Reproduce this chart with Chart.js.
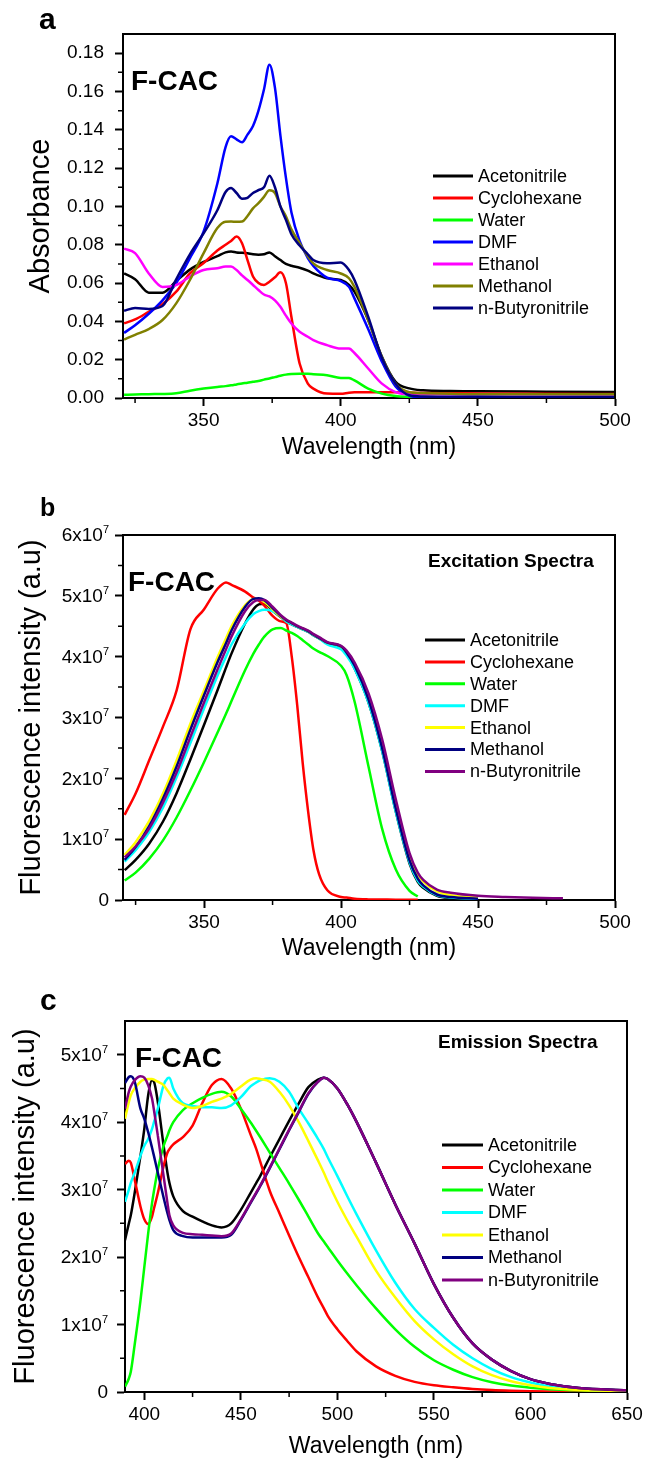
<!DOCTYPE html>
<html>
<head>
<meta charset="utf-8">
<script src="https://cdn.jsdelivr.net/npm/chart.js@4.4.0/dist/chart.umd.min.js"></script>
<style>
  html, body { margin: 0; padding: 0; background: #fff; }
  body { width: 646px; height: 1460px; position: relative; overflow: hidden; }
  .panel { position: absolute; left: 0; width: 646px; }
  canvas { display: block; }
</style>
</head>
<body>
<div class="panel" style="top:0;height:470px"><canvas id="chartA"></canvas></div>
<div class="panel" style="top:470px;height:495px"><canvas id="chartB"></canvas></div>
<div class="panel" style="top:965px;height:495px"><canvas id="chartC"></canvas></div>
<script>
var FONT = '"Liberation Sans", Arial, Helvetica, sans-serif';
Chart.defaults.font.family = FONT;
Chart.defaults.color = '#000';

var solvents = ["Acetonitrile", "Cyclohexane", "Water", "DMF", "Ethanol", "Methanol", "n-Butyronitrile"];
var colorsA = ["#000000", "#ff0000", "#00ff00", "#0000ff", "#ff00ff", "#808000", "#000080"];
var colorsBC = ["#000000", "#ff0000", "#00ff00", "#00ffff", "#ffff00", "#000080", "#800080"];

// ---- panel a : absorbance ----
var aWavelength = [321, 325, 330, 335, 340, 345, 350, 355, 358, 360, 362, 364, 366, 368, 370, 372, 374, 376, 378, 380,
  382, 385, 388, 390, 395, 400, 403, 405, 410, 415, 420, 425, 430, 440, 450, 475, 500];
var aAcetonitrile = [0.065, 0.062, 0.055, 0.055, 0.061, 0.067, 0.071, 0.074, 0.076, 0.0765, 0.076, 0.0758, 0.0755, 0.075, 0.0748,
  0.075, 0.076, 0.074, 0.072, 0.070, 0.069, 0.068, 0.0665, 0.065, 0.0625, 0.0616, 0.059, 0.0555, 0.0407, 0.0215,
  0.0084, 0.005, 0.004, 0.0036, 0.0035, 0.0033, 0.0031];
var aCyclohexane = [0.039, 0.041, 0.045, 0.049, 0.0555, 0.065, 0.0705, 0.077, 0.080, 0.082, 0.0843, 0.0808, 0.072, 0.0634, 0.060,
  0.059, 0.0607, 0.063, 0.0656, 0.060, 0.0424, 0.018, 0.0075, 0.0049, 0.0023, 0.0022, 0.0028, 0.003, 0.003, 0.003,
  0.003, 0.0028, 0.0026, 0.0025, 0.0024, 0.0022, 0.0021];
var aWater = [0.0017, 0.0018, 0.002, 0.0021, 0.0025, 0.0038, 0.0049, 0.0058, 0.0062, 0.0066, 0.0071, 0.0076, 0.008, 0.0085, 0.0089,
  0.0096, 0.0102, 0.0109, 0.0116, 0.0122, 0.0125, 0.0127, 0.0126, 0.0124, 0.0119, 0.0105, 0.0104, 0.0092, 0.0049, 0.0023,
  0.001, 0.0006, 0.0005, 0.0004, 0.0004, 0.0003, 0.0003];
var aDMF = [0.034, 0.038, 0.044, 0.051, 0.060, 0.073, 0.087, 0.112, 0.131, 0.1366, 0.135, 0.1335, 0.1375, 0.142, 0.150,
  0.161, 0.174, 0.162, 0.137, 0.115, 0.097, 0.082, 0.073, 0.069, 0.0628, 0.061, 0.058, 0.052, 0.036, 0.019,
  0.006, 0.0012, 0.0003, 0.0002, 0.0002, 0.0002, 0.0002];
var aEthanol = [0.078, 0.0756, 0.065, 0.058, 0.059, 0.0634, 0.0668, 0.0677, 0.0686, 0.0686, 0.0668, 0.064, 0.0616, 0.059, 0.0564,
  0.054, 0.053, 0.051, 0.0476, 0.043, 0.0389, 0.0346, 0.032, 0.0302, 0.0276, 0.0258, 0.0258, 0.0235, 0.0154, 0.0075,
  0.0031, 0.002, 0.002, 0.002, 0.002, 0.002, 0.002];
var aMethanol = [0.0305, 0.033, 0.036, 0.0407, 0.0494, 0.0616, 0.0756, 0.0887, 0.092, 0.0921, 0.092, 0.0921, 0.095, 0.099, 0.1017,
  0.105, 0.1084, 0.107, 0.100, 0.0948, 0.088, 0.0808, 0.074, 0.0703, 0.0668, 0.065, 0.0625, 0.058, 0.0407, 0.0215,
  0.0075, 0.003, 0.0025, 0.0022, 0.002, 0.002, 0.002];
var aButyronitrile = [0.0455, 0.047, 0.0465, 0.048, 0.062, 0.075, 0.086, 0.098, 0.1075, 0.1096, 0.107, 0.104, 0.1045, 0.107, 0.1085,
  0.110, 0.116, 0.110, 0.100, 0.093, 0.0855, 0.0796, 0.075, 0.072, 0.0703, 0.0707, 0.0668, 0.0616, 0.0424, 0.021,
  0.0075, 0.0014, 0.0008, 0.0006, 0.0006, 0.0005, 0.0005];
var aXTicks = [350, 400, 450, 500];
var aYTicks = [0, 0.02, 0.04, 0.06, 0.08, 0.10, 0.12, 0.14, 0.16, 0.18];

// ---- panel b : excitation (units of 10^7) ----
var bWavelength = [321, 325, 330, 335, 340, 345, 350, 355, 358, 360, 365, 368, 370, 372, 375, 378, 380, 382, 384, 386,
  388, 390, 392, 395, 400, 402, 405, 410, 415, 420, 425, 428, 430, 435, 440, 450, 460, 470, 481];
var bAcetonitrile = [0.49, 0.66, 0.93, 1.29, 1.76, 2.31, 2.88, 3.46, 3.82, 4.05, 4.55, 4.78, 4.86, 4.87, 4.76, 4.65, 4.58, 4.53, 4.49, 4.45,
  4.41, 4.35, 4.3, 4.22, 4.15, 4.05, 3.8, 3.25, 2.45, 1.45, 0.6, 0.3, 0.2, 0.07, 0.035, 0.02, null, null, null];
var bCyclohexane = [1.40, 1.75, 2.3, 2.85, 3.45, 4.45, 4.78, 5.12, 5.22, 5.18, 5.07, 4.97, 4.92, 4.84, 4.67, 4.58, 4.55, 4.0, 3.2, 2.25,
  1.45, 0.8, 0.42, 0.16, 0.05, 0.04, 0.02, 0.01, 0.008, 0.006, 0.005, 0.005, null, null, null, null, null, null, null];
var bWater = [0.32, 0.45, 0.68, 0.98, 1.36, 1.8, 2.27, 2.76, 3.06, 3.27, 3.78, 4.05, 4.2, 4.33, 4.45, 4.47, 4.43, 4.39, 4.34, 4.27,
  4.2, 4.13, 4.08, 4.01, 3.85, 3.7, 3.25, 2.2, 1.17, 0.5, 0.15, 0.06, null, null, null, null, null, null, null];
var bDMF = [0.63, 0.82, 1.12, 1.52, 2.02, 2.58, 3.15, 3.7, 4.0, 4.2, 4.55, 4.7, 4.75, 4.77, 4.75, 4.66, 4.58, 4.53, 4.49, 4.45,
  4.41, 4.35, 4.3, 4.2, 4.12, 4.02, 3.8, 3.25, 2.45, 1.45, 0.62, 0.32, 0.22, 0.08, 0.04, 0.02, null, null, null];
var bEthanol = [0.74, 0.95, 1.3, 1.75, 2.3, 2.9, 3.45, 4.0, 4.3, 4.5, 4.85, 4.95, 4.95, 4.9, 4.78, 4.66, 4.6, 4.55, 4.5, 4.46,
  4.42, 4.36, 4.31, 4.23, 4.17, 4.08, 3.87, 3.32, 2.55, 1.55, 0.72, 0.42, 0.3, 0.14, 0.08, 0.04, null, null, null];
var bMethanol = [0.66, 0.87, 1.22, 1.67, 2.2, 2.8, 3.37, 3.92, 4.22, 4.43, 4.82, 4.95, 4.96, 4.93, 4.8, 4.67, 4.6, 4.55, 4.5, 4.46,
  4.42, 4.36, 4.31, 4.23, 4.17, 4.07, 3.85, 3.3, 2.5, 1.5, 0.65, 0.35, 0.24, 0.09, 0.05, 0.02, null, null, null];
var bButyronitrile = [0.70, 0.88, 1.18, 1.6, 2.1, 2.68, 3.25, 3.8, 4.12, 4.33, 4.75, 4.9, 4.93, 4.93, 4.82, 4.68, 4.61, 4.56, 4.51, 4.47,
  4.43, 4.37, 4.32, 4.24, 4.18, 4.1, 3.9, 3.4, 2.64, 1.65, 0.77, 0.45, 0.33, 0.17, 0.12, 0.07, 0.05, 0.035, 0.027];
var bXTicks = [350, 400, 450, 500];
var bYTicks = [0, 1, 2, 3, 4, 5, 6];

// ---- panel c : emission (units of 10^7) ----
var cWavelength = [390, 392, 393, 395, 398, 400, 402, 404, 405, 407, 410, 412, 413, 415, 420, 425, 430, 435, 440, 445,
  450, 455, 458, 460, 465, 470, 475, 480, 485, 490, 493, 495, 500, 505, 510, 520, 530, 540, 550, 560,
  570, 580, 590, 600, 610, 625, 650];
var cAcetonitrile = [2.25, 2.5, 2.62, 2.95, 3.5, 3.9, 4.4, 4.62, 4.6, 4.3, 3.65, 3.25, 3.1, 2.9, 2.68, 2.6, 2.53, 2.47, 2.44, 2.5,
  2.7, 2.95, 3.1, 3.2, 3.48, 3.75, 4.02, 4.28, 4.52, 4.63, 4.66, 4.64, 4.5, 4.27, 4.0, 3.4, 2.78, 2.2, 1.6, 1.1,
  0.72, 0.48, 0.31, 0.19, 0.12, 0.06, 0.025];
var cCyclohexane = [3.38, 3.43, 3.4, 3.15, 2.75, 2.56, 2.49, 2.6, 2.72, 2.95, 3.35, 3.55, 3.6, 3.67, 3.78, 3.95, 4.28, 4.55, 4.64, 4.5,
  4.2, 3.82, 3.6, 3.42, 2.98, 2.65, 2.32, 2.0, 1.7, 1.4, 1.24, 1.13, 0.93, 0.76, 0.6, 0.38, 0.24, 0.15, 0.1, 0.07,
  0.045, 0.028, 0.018, 0.012, 0.008, 0.005, 0.003];
var cWater = [0.08, 0.2, 0.3, 0.7, 1.35, 1.85, 2.35, 2.8, 2.98, 3.3, 3.65, 3.8, 3.88, 4.0, 4.18, 4.28, 4.36, 4.42, 4.45, 4.38,
  4.2, 4.0, 3.87, 3.78, 3.55, 3.32, 3.09, 2.85, 2.6, 2.35, 2.23, 2.15, 1.95, 1.76, 1.58, 1.24, 0.93, 0.67, 0.47, 0.33,
  0.22, 0.145, 0.095, 0.063, 0.042, 0.025, 0.012];
var cDMF = [2.82, 3.0, 3.1, 3.25, 3.5, 3.65, 3.75, 3.9, 4.0, 4.2, 4.55, 4.65, 4.66, 4.5, 4.28, 4.24, 4.22, 4.22, 4.21, 4.25,
  4.37, 4.53, 4.59, 4.62, 4.65, 4.6, 4.45, 4.2, 3.98, 3.75, 3.6, 3.48, 3.2, 2.91, 2.63, 2.1, 1.62, 1.23, 0.95, 0.7,
  0.5, 0.34, 0.22, 0.14, 0.08, 0.04, 0.015];
var cEthanol = [4.05, 4.3, 4.4, 4.5, 4.6, 4.63, 4.64, 4.64, 4.63, 4.6, 4.55, 4.47, 4.43, 4.35, 4.26, 4.21, 4.24, 4.3, 4.35, 4.42,
  4.53, 4.63, 4.65, 4.64, 4.6, 4.45, 4.25, 4.0, 3.72, 3.43, 3.25, 3.12, 2.82, 2.55, 2.3, 1.8, 1.4, 1.05, 0.78, 0.56,
  0.38, 0.25, 0.16, 0.1, 0.06, 0.03, 0.012];
var cMethanol = [4.58, 4.67, 4.68, 4.6, 4.2, 4.05, 3.85, 3.62, 3.5, 3.25, 2.88, 2.65, 2.55, 2.4, 2.31, 2.29, 2.29, 2.29, 2.29, 2.33,
  2.55, 2.8, 2.95, 3.05, 3.32, 3.6, 3.88, 4.15, 4.42, 4.6, 4.66, 4.64, 4.5, 4.27, 4.0, 3.4, 2.78, 2.2, 1.6, 1.1,
  0.72, 0.48, 0.31, 0.19, 0.12, 0.06, 0.025];
var cButyronitrile = [4.2, 4.45, 4.53, 4.62, 4.68, 4.66, 4.55, 4.35, 4.18, 3.8, 3.2, 2.8, 2.62, 2.47, 2.36, 2.34, 2.33, 2.32, 2.31, 2.35,
  2.56, 2.81, 2.96, 3.06, 3.33, 3.61, 3.89, 4.16, 4.43, 4.6, 4.66, 4.64, 4.5, 4.27, 4.0, 3.4, 2.78, 2.2, 1.6, 1.1,
  0.72, 0.48, 0.31, 0.19, 0.12, 0.06, 0.025];
var cXTicks = [400, 450, 500, 550, 600, 650];
var cYTicks = [0, 1, 2, 3, 4, 5];

function steps(from, to, step) {
  var out = [];
  for (var v = from; v <= to + 1e-9; v += step) out.push(+v.toFixed(4));
  return out;
}

// frame, minor ticks, superscript tick labels, legend and tags
var decor = {
  id: 'decor',
  afterDraw: function (chart, args, o) {
    var ctx = chart.ctx, a = chart.chartArea, xs = chart.scales.x, ys = chart.scales.y;
    ctx.save();
    ctx.strokeStyle = '#000';
    ctx.lineWidth = 2;
    ctx.lineCap = 'square';
    ctx.beginPath();
    ctx.moveTo(a.left, a.top);
    ctx.lineTo(a.right, a.top);
    ctx.lineTo(a.right, a.bottom);
    ctx.stroke();

    ctx.lineWidth = 1.5;
    ctx.lineCap = 'butt';
    ctx.beginPath();
    o.minorX.forEach(function (v) {
      var px = xs.getPixelForValue(v);
      ctx.moveTo(px, a.bottom); ctx.lineTo(px, a.bottom + 5);
    });
    o.minorY.forEach(function (v) {
      var py = ys.getPixelForValue(v);
      ctx.moveTo(a.left, py); ctx.lineTo(a.left - 5, py);
    });
    ctx.stroke();

    ctx.fillStyle = '#000';
    if (o.sciTicks) {
      var xr = a.left - o.sciGap;
      o.sciTicks.forEach(function (v) {
        var py = ys.getPixelForValue(v);
        ctx.textBaseline = 'middle';
        if (v === 0) {
          ctx.font = '19px ' + FONT;
          ctx.textAlign = 'right';
          ctx.fillText('0', xr, py + 1);
          return;
        }
        ctx.font = '11px ' + FONT;
        var ew = ctx.measureText('7').width;
        ctx.textAlign = 'left';
        ctx.fillText('7', xr - ew, py - 5);
        ctx.font = '19px ' + FONT;
        ctx.textAlign = 'right';
        ctx.fillText(v + 'x10', xr - ew, py + 1);
      });
    }

    ctx.textAlign = 'left';
    ctx.textBaseline = 'alphabetic';
    ctx.font = 'bold ' + o.letterSize + 'px ' + FONT;
    ctx.fillText(o.letter, o.letterX, o.letterY);
    ctx.font = 'bold 28px ' + FONT;
    ctx.fillText('F-CAC', o.tagX, o.tagY);
    if (o.note) {
      ctx.font = 'bold 19px ' + FONT;
      ctx.fillText(o.note, o.noteX, o.noteY);
    }

    ctx.font = '18px ' + FONT;
    ctx.textBaseline = 'middle';
    chart.data.datasets.forEach(function (ds, i) {
      var y = o.legY + i * o.legDy;
      ctx.strokeStyle = ds.borderColor;
      ctx.lineWidth = 3;
      ctx.beginPath();
      ctx.moveTo(o.legX, y);
      ctx.lineTo(o.legX + o.legLen, y);
      ctx.stroke();
      ctx.fillText(ds.label, o.legX + o.legLen + 5, y + 1);
    });
    ctx.restore();
  }
};
Chart.register(decor);

function buildPanel(id, p) {
  var datasets = p.series.map(function (s, i) {
    return {
      label: solvents[i],
      data: p.wl.map(function (w, k) { return { x: w, y: s[k] }; }),
      borderColor: p.colors[i],
      backgroundColor: p.colors[i],
      borderWidth: 2.5,
      pointRadius: 0,
      fill: false,
      cubicInterpolationMode: 'monotone',
      order: 10 - i
    };
  });
  return new Chart(document.getElementById(id).getContext('2d'), {
    type: 'line',
    data: { datasets: datasets },
    options: {
      responsive: true,
      maintainAspectRatio: false,
      animation: false,
      layout: { padding: p.pad },
      plugins: {
        legend: { display: false },
        tooltip: { enabled: false },
        decor: p.decor
      },
      scales: {
        x: {
          type: 'linear',
          min: p.xMin,
          max: p.xMax,
          afterBuildTicks: function (s) { s.ticks = p.xTicks.map(function (v) { return { value: v }; }); },
          afterFit: function (s) { s.height = p.xAxisH; s.paddingLeft = 0; s.paddingRight = 0; },
          grid: { drawOnChartArea: false, tickLength: 8, tickWidth: 2, tickColor: '#000' },
          border: { color: '#000', width: 2 },
          ticks: { color: '#000', font: { size: 19 }, padding: 3, maxRotation: 0, autoSkip: false,
            callback: function (v) { return String(v); } },
          title: { display: true, text: 'Wavelength (nm)', color: '#000', font: { size: 23 },
            padding: { top: 0, bottom: p.xTitlePad } }
        },
        y: {
          type: 'linear',
          min: 0,
          max: p.yMax,
          afterBuildTicks: function (s) { s.ticks = p.yTicks.map(function (v) { return { value: v }; }); },
          afterFit: function (s) { s.width = p.yAxisW; s.paddingTop = 0; s.paddingBottom = 0; },
          grid: { drawOnChartArea: false, tickLength: 8, tickWidth: 2, tickColor: '#000' },
          border: { color: '#000', width: 2 },
          ticks: { color: '#000', font: { size: 19 }, padding: 11, autoSkip: false, callback: p.yLabel },
          title: { display: true, text: p.yTitle, color: '#000', font: { size: 29 },
            padding: { top: p.yTitlePad, bottom: 0 } }
        }
      }
    }
  });
}

buildPanel('chartA', {
  wl: aWavelength,
  series: [aAcetonitrile, aCyclohexane, aWater, aDMF, aEthanol, aMethanol, aButyronitrile],
  colors: colorsA,
  xMin: 320.6, xMax: 500, xTicks: aXTicks,
  yMax: 0.19, yTicks: aYTicks,
  yLabel: function (v) { return v.toFixed(2); },
  yTitle: 'Absorbance',
  pad: { top: 34, right: 31, left: 0, bottom: 0 },
  yAxisW: 123, xAxisH: 72, xTitlePad: 9, yTitlePad: 24,
  decor: {
    minorX: [325, 375, 425, 475], minorY: steps(0.01, 0.17, 0.02),
    letter: 'a', letterSize: 30, letterX: 39, letterY: 29, tagX: 131, tagY: 90,
    legX: 433, legLen: 40, legY: 176, legDy: 22
  }
});

buildPanel('chartB', {
  wl: bWavelength,
  series: [bAcetonitrile, bCyclohexane, bWater, bDMF, bEthanol, bMethanol, bButyronitrile],
  colors: colorsBC,
  xMin: 320.4, xMax: 500, xTicks: bXTicks,
  yMax: 6, yTicks: bYTicks,
  yLabel: function () { return ''; },
  yTitle: 'Fluorescence intensity (a.u)',
  pad: { top: 65, right: 31, left: 0, bottom: 0 },
  yAxisW: 123, xAxisH: 65, xTitlePad: 3, yTitlePad: 15,
  decor: {
    minorX: [325, 375, 425, 475], minorY: steps(0.5, 5.5, 1), sciTicks: bYTicks, sciGap: 14,
    letter: 'b', letterSize: 25, letterX: 40, letterY: 46, tagX: 128, tagY: 121,
    note: 'Excitation Spectra', noteX: 428, noteY: 97,
    legX: 425, legLen: 40, legY: 170, legDy: 21.9
  }
});

buildPanel('chartC', {
  wl: cWavelength,
  series: [cAcetonitrile, cCyclohexane, cWater, cDMF, cEthanol, cMethanol, cButyronitrile],
  colors: colorsBC,
  xMin: 390, xMax: 650, xTicks: cXTicks,
  yMax: 5.5, yTicks: cYTicks,
  yLabel: function () { return ''; },
  yTitle: 'Fluorescence intensity (a.u)',
  pad: { top: 56, right: 19, left: 0, bottom: 0 },
  yAxisW: 125, xAxisH: 68, xTitlePad: 0, yTitlePad: 9,
  decor: {
    minorX: [425, 475, 525, 575, 625], minorY: steps(0.5, 4.5, 1), sciTicks: cYTicks, sciGap: 17,
    letter: 'c', letterSize: 30, letterX: 40, letterY: 45, tagX: 135, tagY: 102,
    note: 'Emission Spectra', noteX: 438, noteY: 83,
    legX: 442, legLen: 41, legY: 180, legDy: 22.5
  }
});
</script>
</body>
</html>
